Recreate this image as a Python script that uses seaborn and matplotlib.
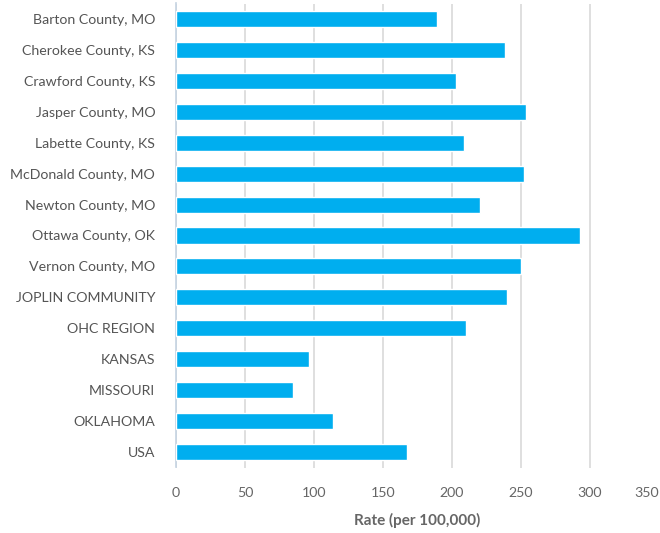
import numpy as np
import pandas as pd
import matplotlib
matplotlib.use("Agg")
import matplotlib.pyplot as plt
import seaborn as sns

regions = ["Barton County, MO", "Cherokee County, KS", "Crawford County, KS",
           "Jasper County, MO", "Labette County, KS", "McDonald County, MO",
           "Newton County, MO", "Ottawa County, OK", "Vernon County, MO",
           "JOPLIN COMMUNITY", "OHC REGION", "KANSAS", "MISSOURI",
           "OKLAHOMA", "USA"]
rates = [189.0, 238.5, 203.0, 253.5, 208.5, 252.5, 220.0, 293.0, 250.0,
         240.0, 210.5, 96.5, 85.0, 114.0, 167.5]
x_ticks = [0, 50, 100, 150, 200, 250, 300, 350]

df = pd.DataFrame({"Region": regions, "Rate": rates})

sns.set_style("white")
plt.rcParams["font.family"] = ["Lato", "DejaVu Sans"]

fig = plt.figure(figsize=(6.6, 5.33), dpi=100)
ax = fig.add_axes([176 / 660, 1 - 467.5 / 533, (659 - 176) / 660, (467.5 - 3.5) / 533])

sns.barplot(data=df, x="Rate", y="Region", color="#00AEEF", width=0.52,
            saturation=1, ax=ax, zorder=3)

ax.set_xlim(0, 350)
ax.set_ylim(len(regions) - 0.5, -0.5)
ax.set_xticks(x_ticks)
ax.xaxis.grid(True, color="#d9d9d9", linewidth=1.2, zorder=0)
ax.yaxis.grid(False)
ax.get_xgridlines()[-1].set_visible(False)

for s in ["top", "right", "bottom"]:
    ax.spines[s].set_visible(False)
ax.spines["left"].set_color("#c5d3e2")
ax.spines["left"].set_linewidth(1.2)

# boundary tick marks between categories
ax.set_yticks(np.arange(-0.5, len(regions), 1.0), minor=True)
ax.tick_params(axis="y", which="minor", length=9, color="#c5d3e2", width=1.2)
ax.tick_params(axis="y", which="major", length=0, pad=15, labelsize=10.2, labelcolor="#555555")
ax.tick_params(axis="x", length=0, pad=14, labelsize=10.2, labelcolor="#666666")

# last tick label kept inside the figure
ax.get_xticklabels()[-1].set_horizontalalignment("right")

ax.set_ylabel("")
ax.set_xlabel("Rate (per 100,000)", fontsize=11, fontweight="bold", color="#666666", labelpad=10)

fig.savefig("out.png", dpi=100)
